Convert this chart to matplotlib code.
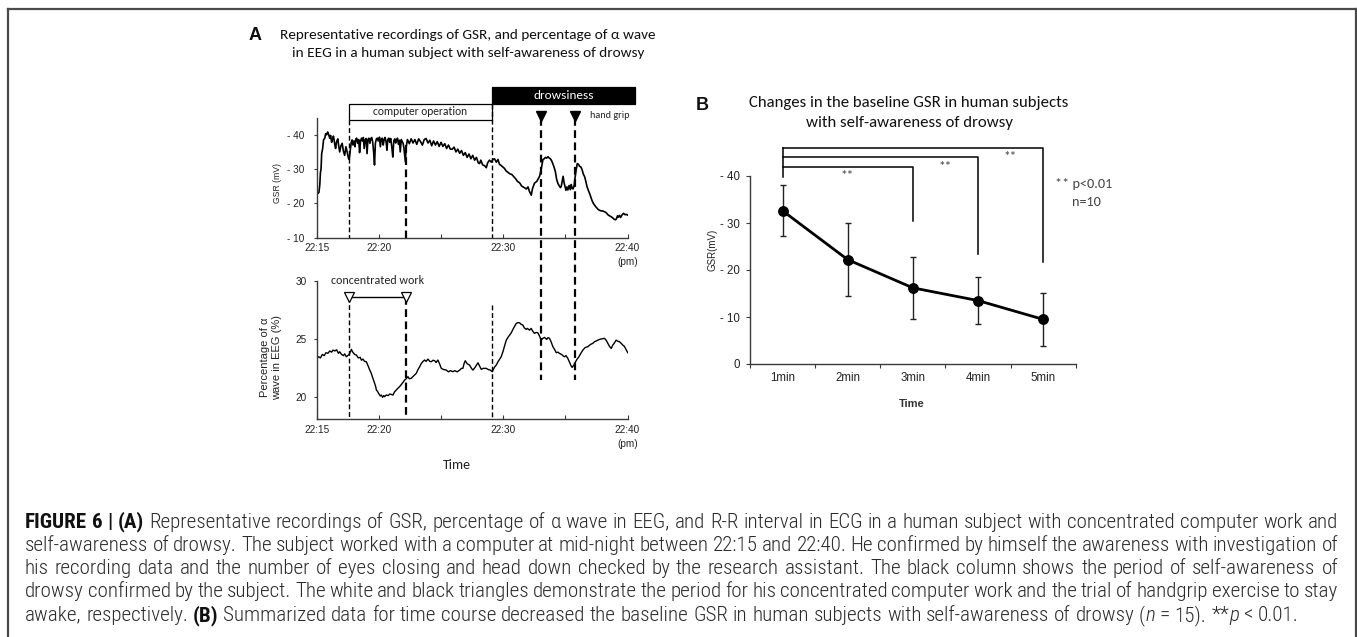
import re
import matplotlib
matplotlib.use("Agg")
import matplotlib.pyplot as plt
from matplotlib import font_manager
from matplotlib.transforms import blended_transform_factory
from matplotlib.patches import Rectangle
from matplotlib.lines import Line2D

# ------------------------------------------------------------------ data
# Panel A, top: GSR trace (minutes after 22:15, mV)
gsr_time_min = [
    0.00, 0.10, 0.18, 0.25, 0.30, 0.35, 0.40, 0.48, 0.55, 0.65, 0.72, 0.80, 0.88, 0.95,
    1.05, 1.12, 1.20, 1.28, 1.35, 1.45, 1.52, 1.60, 1.70, 1.78, 1.85, 1.95, 2.05, 2.15,
    2.25, 2.35, 2.45, 2.55, 2.62, 2.70, 2.78, 2.85, 2.92, 3.00, 3.08, 3.15, 3.22, 3.30,
    3.38, 3.45, 3.52, 3.60, 3.68, 3.75, 3.82, 3.90, 3.98, 4.05, 4.12, 4.20, 4.28, 4.35,
    4.42, 4.50, 4.58, 4.65, 4.72, 4.80, 4.88, 4.95, 5.05, 5.12, 5.20, 5.28, 5.35, 5.42,
    5.50, 5.58, 5.65, 5.72, 5.80, 5.88, 5.95, 6.05, 6.12, 6.20, 6.28, 6.35, 6.42, 6.50,
    6.58, 6.65, 6.72, 6.80, 6.88, 6.95, 7.02, 7.08, 7.13, 7.20, 7.30, 7.45, 7.60, 7.75,
    7.90, 8.05, 8.20, 8.35, 8.50, 8.65, 8.80, 8.95, 9.10, 9.25, 9.40, 9.55, 9.70, 9.85,
    10.00, 10.15, 10.30, 10.45, 10.60, 10.75, 10.90, 11.05, 11.20, 11.35, 11.50, 11.65,
    11.80, 11.95, 12.10, 12.25, 12.40, 12.55, 12.70, 12.85, 13.00, 13.10, 13.20, 13.35,
    13.50, 13.64, 13.75, 13.90, 14.05, 14.17, 14.30, 14.45, 14.58, 14.70, 14.85, 14.98,
    15.10, 15.25, 15.40, 15.55, 15.70, 15.85, 16.00, 16.15, 16.32, 16.50, 16.70, 16.86,
    17.00, 17.10, 17.26, 17.35, 17.52, 17.70, 17.93, 18.05, 18.14, 18.20, 18.30, 18.40,
    18.50, 18.60, 18.70, 18.80, 18.90, 19.00, 19.10, 19.20, 19.30, 19.40, 19.50, 19.60,
    19.67, 19.75, 19.82, 19.90, 19.97, 20.05, 20.12, 20.20, 20.30, 20.40, 20.47, 20.55,
    20.62, 20.70, 20.78, 20.88, 20.96, 21.05, 21.15, 21.25, 21.35, 21.45, 21.55, 21.65,
    21.75, 21.85, 21.95, 22.05, 22.15, 22.25, 22.35, 22.45, 22.55, 22.65, 22.75, 22.88,
    23.00, 23.12, 23.25, 23.35, 23.45, 23.55, 23.69, 23.80, 23.92, 24.04, 24.12, 24.20,
    24.28, 24.36, 24.45, 24.55, 24.68, 24.80, 24.92, 25.00]
gsr_mv = [
    23.3, 22.9, 23.2, 25.5, 29.0, 30.0, 34.5, 36.0, 38.5, 39.0, 40.3, 40.0, 40.8, 40.2,
    39.0, 39.8, 37.8, 38.9, 39.6, 37.2, 36.0, 38.0, 38.8, 36.5, 35.0, 36.8, 37.5, 35.2,
    34.0, 36.5, 35.0, 33.2, 32.8, 35.5, 37.8, 38.5, 37.0, 38.2, 36.5, 38.8, 39.0, 37.5,
    38.6, 34.8, 38.0, 39.0, 38.2, 39.2, 36.0, 38.5, 38.9, 34.5, 38.6, 39.0, 37.5, 38.8,
    39.2, 38.0, 35.0, 31.2, 37.5, 38.8, 39.0, 38.2, 39.3, 36.5, 38.8, 39.0, 37.0, 38.5,
    39.2, 38.0, 35.5, 38.6, 39.0, 37.8, 38.9, 36.2, 33.5, 38.2, 38.8, 37.6, 38.5, 39.0,
    37.2, 38.4, 35.0, 38.6, 38.0, 37.5, 36.0, 34.0, 32.2, 36.5, 38.6, 37.4, 38.8, 37.6,
    38.6, 37.2, 38.8, 38.0, 37.0, 38.6, 38.9, 37.6, 38.4, 36.8, 38.2, 37.0, 38.0, 36.6,
    37.8, 36.6, 37.4, 36.0, 37.0, 35.8, 35.8, 36.4, 35.0, 35.8, 34.6, 35.4,
    34.0, 34.8, 33.4, 34.4, 33.0, 34.0, 32.6, 33.4, 31.8, 31.6, 32.6, 31.2,
    31.0, 30.4, 31.8, 32.6, 32.0, 32.8, 33.0, 32.0, 32.8, 31.4, 31.0, 30.6,
    30.2, 29.4, 29.0, 28.6, 28.4, 27.8, 27.2, 26.4, 26.0, 25.0, 24.6, 24.2,
    24.8, 23.6, 22.4, 24.2, 25.9, 26.4, 27.9, 29.8, 31.7, 32.8, 33.0, 33.4,
    33.2, 33.6, 33.2, 33.0, 32.4, 31.5, 30.5, 29.2, 27.0, 25.8, 25.2, 24.6,
    24.9, 26.5, 27.9, 26.0, 25.0, 23.8, 24.8, 23.9, 25.2, 24.0, 25.5, 24.4,
    24.2, 25.0, 27.5, 30.0, 31.6, 31.4, 30.8, 30.6, 29.8, 28.5, 27.8, 26.4,
    24.8, 23.8, 22.9, 21.8, 20.8, 20.0, 19.5, 19.0, 18.6, 18.2, 18.0, 17.8,
    17.8, 17.6, 17.4, 17.0, 16.6, 16.4, 16.1, 15.8, 15.4, 15.2, 15.6, 16.4,
    16.0, 16.5, 15.9, 16.6, 17.1, 16.7, 16.8, 16.6]

# Panel A, bottom: percentage of alpha wave in EEG
eeg_time_min = [
    0.00, 0.15, 0.30, 0.45, 0.60, 0.75, 0.90, 1.05, 1.20, 1.31, 1.45, 1.60, 1.75, 1.85,
    2.00, 2.15, 2.25, 2.38, 2.50, 2.60, 2.70, 2.79, 2.90, 3.05, 3.19, 3.35, 3.50, 3.60,
    3.72, 3.85, 3.99, 4.10, 4.25, 4.39, 4.50, 4.60, 4.66, 4.75, 4.80, 4.90, 5.00, 5.12,
    5.20, 5.30, 5.40, 5.47, 5.60, 5.75, 5.87, 6.00, 6.14, 6.25, 6.40, 6.50, 6.67, 6.80,
    6.95, 7.07, 7.20, 7.34, 7.45, 7.61, 7.75, 7.90, 8.01, 8.15, 8.28, 8.40, 8.55, 8.68,
    8.80, 8.95, 9.10, 9.22, 9.35, 9.49, 9.60, 9.75, 9.88, 10.02, 10.20, 10.42, 10.60,
    10.75, 10.96, 11.10, 11.30, 11.50, 11.65, 11.76, 11.85, 11.95, 12.10, 12.30, 12.45,
    12.57, 12.75, 12.97, 13.10, 13.24, 13.40, 13.64, 13.80, 13.96, 14.12, 14.30, 14.44,
    14.60, 14.84, 15.00, 15.10, 15.25, 15.40, 15.65, 15.80, 15.95, 16.05, 16.20, 16.32,
    16.45, 16.59, 16.70, 16.85, 16.95, 17.12, 17.25, 17.38, 17.52, 17.65, 17.79, 17.92,
    18.06, 18.20, 18.33, 18.50, 18.60, 18.73, 18.85, 19.00, 19.15, 19.27, 19.40, 19.53,
    19.70, 19.85, 19.94, 20.05, 20.20, 20.35, 20.47, 20.55, 20.70, 20.82, 20.95, 21.09,
    21.25, 21.41, 21.60, 21.81, 21.95, 22.08, 22.20, 22.35, 22.55, 22.75, 22.95, 23.15,
    23.30, 23.42, 23.55, 23.69, 23.82, 23.95, 24.09, 24.20, 24.36, 24.50, 24.62, 24.75,
    24.84, 24.95, 25.02]
eeg_alpha_pct = [
    23.36, 23.50, 23.40, 23.70, 23.60, 23.85, 23.80, 24.00, 23.90, 24.08, 24.00, 24.10,
    23.80, 23.93, 23.70, 23.60, 23.75, 23.50, 23.60, 23.70, 23.90, 24.14, 23.90, 23.70,
    23.65, 23.40, 23.45, 23.20, 23.30, 23.10, 23.07, 22.80, 22.40, 22.07, 21.70, 21.40,
    21.21, 20.90, 20.63, 20.50, 20.30, 20.11, 20.20, 20.00, 20.15, 20.05, 20.20, 20.15,
    20.28, 20.25, 20.20, 20.45, 20.63, 20.75, 20.92, 21.10, 21.30, 21.49, 21.60, 21.78,
    21.60, 21.64, 21.80, 21.95, 22.07, 22.40, 22.64, 22.90, 23.10, 23.22, 23.10, 23.30,
    23.10, 23.07, 23.20, 23.16, 23.00, 23.22, 22.90, 22.50, 22.40, 22.35, 22.20, 22.30,
    22.21, 22.30, 22.20, 22.35, 22.50, 22.50, 22.90, 23.16, 22.90, 22.78, 22.50, 22.35,
    22.60, 22.98, 22.70, 22.41, 22.50, 22.50, 22.40, 22.35, 22.21, 22.60, 22.78, 23.10,
    23.50, 24.00, 24.40, 24.94, 25.20, 25.57, 25.90, 26.20, 26.38, 26.45, 26.43, 26.30,
    26.23, 26.00, 25.86, 25.95, 25.80, 25.95, 25.70, 25.52, 25.60, 25.57, 25.30, 24.94,
    25.10, 25.17, 25.00, 25.15, 25.09, 24.80, 24.37, 24.10, 23.85, 23.90, 23.79, 23.70,
    23.55, 23.50, 23.60, 23.36, 23.00, 22.70, 22.58, 22.80, 23.07, 23.30, 23.50, 23.80,
    24.08, 24.30, 24.37, 24.50, 24.60, 24.65, 24.80, 24.90, 25.00, 25.05, 25.09, 24.90,
    24.66, 24.40, 24.22, 24.51, 24.70, 24.94, 24.85, 24.80, 24.65, 24.51, 24.40, 24.22,
    24.00, 23.85]

time_ticks_min = [0, 5, 10, 15, 20, 25]
time_tick_labels = ["22:15", "22:20", "", "22:30", "", "22:40"]
gsr_ticks = [10, 20, 30, 40]
gsr_tick_labels = ["- 10", "- 20", "- 30", "- 40"]
eeg_ticks = [20, 25, 30]
eeg_tick_labels = ["20", "25", "30"]

work_start, work_end = 2.6, 7.15            # concentrated work (white triangles)
operation_start, operation_end = 2.6, 14.1  # computer operation box
drowsy_start, drowsy_end = 14.1, 25.64      # drowsiness box
handgrip_times = [18.05, 20.8]              # black triangles

# Panel B
b_categories = ["1min", "2min", "3min", "4min", "5min"]
b_mean = [32.6, 22.2, 16.2, 13.5, 9.5]
b_err = [5.4, 7.7, 6.6, 4.95, 5.6]
b_ticks = [0, 10, 20, 30, 40]
b_tick_labels = ["0", "- 10", "- 20", "- 30", "- 40"]
sig_targets = [3, 4, 5]
sig_bar_heights = [42, 44, 46]
sig_drop_ends = [30.5, 23.4, 21.8]
sig_left_bottom = 39.8

caption_lines = [
    [("FIGURE 6 | (A)", "bold", "normal"),
     (" Representative recordings of GSR, percentage of \u03b1 wave in EEG, and R-R interval in ECG in a human subject with concentrated computer work and", "normal", "normal")],
    [("self-awareness of drowsy. The subject worked with a computer at mid-night between 22:15 and 22:40. He confirmed by himself the awareness with investigation of", "normal", "normal")],
    [("his recording data and the number of eyes closing and head down checked by the research assistant. The black column shows the period of self-awareness of", "normal", "normal")],
    [("drowsy confirmed by the subject. The white and black triangles demonstrate the period for his concentrated computer work and the trial of handgrip exercise to stay", "normal", "normal")],
    [("awake, respectively. ", "normal", "normal"), ("(B)", "bold", "normal"),
     (" Summarized data for time course decreased the baseline GSR in human subjects with self-awareness of drowsy (", "normal", "normal"),
     ("n", "normal", "italic"), (" = 15). **", "normal", "normal"), ("p", "normal", "italic"),
     (" < 0.01.", "normal", "normal")],
]

# ------------------------------------------------------------------ fonts
names = {f.name for f in font_manager.fontManager.ttflist}
def pick(*cands):
    for c in cands:
        if c in names:
            return c
    return "DejaVu Sans"
ARIAL = pick("Liberation Sans", "Arial")
CALI = pick("Carlito", "Lato", "Open Sans")
NARROW = pick("Liberation Sans Narrow", "Roboto Condensed", "Open Sans Condensed", "Liberation Sans")
ARIAL_F = [ARIAL, "DejaVu Sans"]
CALI_F = [CALI, "DejaVu Sans"]
NARROW_F = [NARROW, "DejaVu Sans"]

# ------------------------------------------------------------------ figure
W, H = 1357, 637
fig = plt.figure(figsize=(W / 100, H / 100), dpi=100)
fig.patch.set_facecolor("white")
renderer = fig.canvas.get_renderer()

def fx(x):
    return x / W

def fy(y):
    return 1 - y / H

def measure(s, **kw):
    t = fig.text(0, 0, s, **kw)
    w = t.get_window_extent(renderer).width
    t.remove()
    return w

def advance(s, **kw):
    return measure("|" + s + "|", **kw) - measure("||", **kw)

def fit(s, target, **kw):
    return 10.0 * target / measure(s, fontsize=10, **kw)

AX_COL = "#3a3a3a"

def style_axes(ax):
    for side in ("top", "right"):
        ax.spines[side].set_visible(False)
    for side in ("left", "bottom"):
        ax.spines[side].set_color(AX_COL)
        ax.spines[side].set_linewidth(1.0)
    ax.set_facecolor("none")

# ---------------- Panel A top (GSR)
axl, axr = 316.7, 627.5
ax1 = fig.add_axes([fx(axl), fy(237.7), (axr - axl) / W, (237.7 - 117.6) / H])
style_axes(ax1)
ax1.plot(gsr_time_min, gsr_mv, color="black", lw=1.2)
ax1.set_xlim(0, 25)
ax1.set_ylim(10, 45)
ax1.set_xticks(time_ticks_min)
ax1.set_xticklabels(time_tick_labels, fontsize=7.2, family=ARIAL_F, color="#222")
ax1.set_yticks(gsr_ticks)
ax1.set_yticklabels(gsr_tick_labels, fontsize=7.2, family=ARIAL_F, color="#222")
ax1.tick_params(axis="x", direction="in", length=3, pad=4, color=AX_COL)
ax1.tick_params(axis="y", direction="out", length=2, pad=7, color=AX_COL)
ax1.annotate("(pm)", xy=(25, 0), xycoords=("data", "axes fraction"), xytext=(0, -17.5),
             textcoords="offset points", ha="center", va="center", fontsize=7.2,
             family=ARIAL_F, color="#222", annotation_clip=False)

# ---------------- Panel A bottom (EEG)
ax2 = fig.add_axes([fx(axl), fy(419.3), (axr - axl) / W, (419.3 - 281.5) / H])
style_axes(ax2)
ax2.plot(eeg_time_min, eeg_alpha_pct, color="black", lw=1.0)
ax2.set_xlim(0, 25)
ax2.set_ylim(18.1, 30)
ax2.set_xticks(time_ticks_min)
ax2.set_xticklabels(time_tick_labels, fontsize=7.2, family=ARIAL_F, color="#222")
ax2.set_yticks(eeg_ticks)
ax2.set_yticklabels(eeg_tick_labels, fontsize=7.2, family=ARIAL_F, color="#222")
ax2.tick_params(axis="x", direction="in", length=3, pad=4, color=AX_COL)
ax2.tick_params(axis="y", direction="out", length=2, pad=5, color=AX_COL)
ax2.annotate("(pm)", xy=(25, 0), xycoords=("data", "axes fraction"), xytext=(0, -17.5),
             textcoords="offset points", ha="center", va="center", fontsize=7.2,
             family=ARIAL_F, color="#222", annotation_clip=False)

# event markers: boxes, triangles, dashed lines
blend1 = blended_transform_factory(ax1.transData, fig.transFigure)
def vdash(t, y0, y1, lw, dashes):
    ax1.add_line(Line2D([t, t], [fy(y0), fy(y1)], transform=blend1, color="black",
                        lw=lw, dashes=dashes, clip_on=False))

vdash(operation_start, 120, 237.7, 1.0, (3.5, 2.0))
vdash(operation_start, 297, 419.3, 1.0, (3.5, 2.0))
vdash(work_end, 145, 237.7, 1.6, (3.5, 2.0))
vdash(work_end, 297, 419.3, 1.6, (3.5, 2.0))
vdash(operation_end, 104, 237.7, 1.0, (3.5, 2.0))
vdash(operation_end, 305, 419.3, 1.0, (3.5, 2.0))
for t in handgrip_times:
    vdash(t, 118, 380, 1.6, (3.5, 2.0))

ax1.add_patch(Rectangle((operation_start, 44.3), operation_end - operation_start, 4.68,
                        facecolor="white", edgecolor="black", lw=0.9, clip_on=False))
ax1.add_patch(Rectangle((drowsy_start, 48.98), drowsy_end - drowsy_start, 5.05,
                        facecolor="black", edgecolor="black", lw=0.9, clip_on=False))
s_op = fit("computer operation", 95, family=CALI_F)
ax1.text((operation_start + operation_end) / 2, 46.65, "computer operation", ha="center",
         va="center", fontsize=s_op, family=CALI_F, color="#222", clip_on=False)
s_dr = fit("drowsiness", 60, family=CALI_F)
ax1.text((drowsy_start + drowsy_end) / 2, 51.5, "drowsiness", ha="center", va="center",
         fontsize=s_dr, family=CALI_F, color="white", clip_on=False)
ax1.plot(handgrip_times, [45.5] * len(handgrip_times), linestyle="none", marker="v",
         ms=6.5, color="black", clip_on=False)
s_hg = fit("hand grip", 40, family=CALI_F)
ax1.text(handgrip_times[-1] + 1.15, 45.6, "hand grip", ha="left", va="center",
         fontsize=s_hg, family=CALI_F, color="#222", clip_on=False)

ax2.plot([work_start, work_end], [28.65, 28.65], color="black", lw=1.0, marker="v",
         ms=7.5, mfc="white", mec="black", mew=0.9, clip_on=False)
s_cw = fit("concentrated work", 93, family=CALI_F)
ax2.text((work_start + work_end) / 2, 30.05, "concentrated work", ha="center",
         va="center", fontsize=s_cw, family=CALI_F, color="#222", clip_on=False)

# axis labels (panel A)
fig.text(fx(277), fy(183), "GSR (mV)", rotation=90, ha="center", va="center",
         fontsize=6.2, family=ARIAL_F, color="#222")
fig.text(fx(271), fy(357), "Percentage of \u03b1\nwave in EEG (%)", rotation=90,
         ha="center", va="center", fontsize=8, family=ARIAL_F, color="#222",
         linespacing=1.35)
fig.text(fx(457), fy(465), "Time", ha="center", va="center", fontsize=10,
         family=CALI_F, color="#222")

# titles panel A
tA1 = "Representative recordings of GSR, and percentage of \u03b1 wave"
tA2 = "in EEG in a human subject with self-awareness of drowsy"
sA = fit(tA1, 378, family=CALI_F)
fig.text(fx(468), fy(35), tA1, ha="center", va="center", fontsize=sA, family=CALI_F,
         color="#111")
fig.text(fx(468), fy(53), tA2, ha="center", va="center", fontsize=sA, family=CALI_F,
         color="#111")
fig.text(fx(255), fy(35), "A", ha="center", va="center", fontsize=13, weight="bold",
         family=ARIAL_F, color="#111")

# ---------------- Panel B
ax3 = fig.add_axes([fx(750), fy(364), 325.7 / W, 188 / H])
style_axes(ax3)
xs = list(range(1, len(b_categories) + 1))
ax3.errorbar(xs, b_mean, yerr=b_err, fmt="-o", color="black", lw=2.0, ms=6.8,
             ecolor="#222", elinewidth=1.0, capsize=2.5, capthick=1.0, clip_on=False)
ax3.set_xlim(0.5, len(b_categories) + 0.5)
ax3.set_ylim(0, 40)
ax3.set_xticks([i + 0.5 for i in range(0, len(b_categories) + 1)])
ax3.set_xticklabels([])
ax3.set_xticks(xs, minor=True)
ax3.set_xticklabels(b_categories, minor=True, fontsize=8.3, family=ARIAL_F, color="#222")
ax3.tick_params(axis="x", which="major", direction="out", length=3, color=AX_COL)
ax3.tick_params(axis="x", which="minor", length=0, pad=6)
ax3.set_yticks(b_ticks)
ax3.set_yticklabels(b_tick_labels, fontsize=8.3, family=ARIAL_F, color="#222")
ax3.tick_params(axis="y", direction="out", length=3, pad=4, color=AX_COL)

# significance brackets
ax3.plot([1, 1], [max(sig_bar_heights), sig_left_bottom], color="black", lw=1.1,
         clip_on=False)
prev = 1
for tgt, h, d in zip(sig_targets, sig_bar_heights, sig_drop_ends):
    ax3.plot([1, tgt, tgt], [h, h, d], color="black", lw=1.1, clip_on=False)
    ax3.text((prev + tgt) / 2, h - 1.9, "**", ha="center", va="center", fontsize=9.5,
             family=CALI_F, color="#444", clip_on=False)
    prev = tgt

s_p = fit("** p<0.01", 57, family=CALI_F)
fig.text(fx(1055), fy(184), "** p<0.01", ha="left", va="center",
         fontsize=s_p, family=CALI_F, color="#444")
fig.text(fx(1072), fy(202), "n=10", ha="left", va="center",
         fontsize=s_p, family=CALI_F, color="#444")
fig.text(fx(712), fy(250), "GSR(mV)", rotation=90, ha="center", va="center",
         fontsize=7, family=ARIAL_F, color="#222")
fig.text(fx(912), fy(404), "Time", ha="center", va="center", fontsize=8, weight="bold",
         family=ARIAL_F, color="#333")

tB1 = "Changes in the baseline GSR in human subjects"
tB2 = "with self-awareness of drowsy"
sB = fit(tB1, 322, family=CALI_F)
fig.text(fx(909), fy(103), tB1, ha="center", va="center", fontsize=sB, family=CALI_F,
         color="#111")
fig.text(fx(910), fy(123), tB2, ha="center", va="center", fontsize=sB, family=CALI_F,
         color="#111")
fig.text(fx(702), fy(105), "B", ha="center", va="center", fontsize=13, weight="bold",
         family=ARIAL_F, color="#111")

# ---------------- frame
for xs_, ys_ in (([7.5, 7.5], [H + 5, 8.5]), ([7.5, 1355.5], [8.5, 8.5]),
                 ([1355.5, 1355.5], [8.5, H + 5])):
    fig.add_artist(Line2D([fx(v) for v in xs_], [fy(v) for v in ys_],
                          transform=fig.transFigure, color="#4a4a4a", lw=1.6))

# ---------------- caption (justified lines, natural last line)
CAP_NORMAL_W = 300

def tokens(runs):
    out = []
    for s, wgt, sty in runs:
        for tok in re.split(r"( )", s):
            if tok:
                out.append((tok, wgt, sty))
    return out

def tok_kw(wgt, sty, size):
    return dict(fontsize=size, family=NARROW_F,
                weight=("bold" if wgt == "bold" else CAP_NORMAL_W), style=sty)

def natural(runs, size):
    words, spaces = 0.0, 0
    for tok, wgt, sty in tokens(runs):
        if tok == " ":
            spaces += 1
        else:
            words += advance(tok, **tok_kw(wgt, sty, size))
    return words, spaces

x_left, x_right = 25.0, 1338.0
sp10 = advance(" ", **tok_kw("normal", "normal", 10.0))
full10 = []
for runs in caption_lines[:-1]:
    w_, n_ = natural(runs, 10.0)
    full10.append(w_ + n_ * sp10)
cap_size = 10.0 * (x_right - x_left) / (sum(full10) / len(full10))
space_w = advance(" ", **tok_kw("normal", "normal", cap_size))
for i, runs in enumerate(caption_lines):
    y = 522 + 23.3 * i
    words_w, n_sp = natural(runs, cap_size)
    if i < len(caption_lines) - 1 and n_sp:
        gap = (x_right - x_left - words_w) / n_sp
    else:
        gap = space_w
    x = x_left
    for tok, wgt, sty in tokens(runs):
        if tok == " ":
            x += gap
            continue
        kw = tok_kw(wgt, sty, cap_size)
        fig.text(fx(x), fy(y), tok, ha="left", va="center",
                 color="#111" if wgt == "bold" else "#2b2b2b", **kw)
        x += advance(tok, **kw)

fig.savefig("out.png", dpi=100, facecolor="white")
